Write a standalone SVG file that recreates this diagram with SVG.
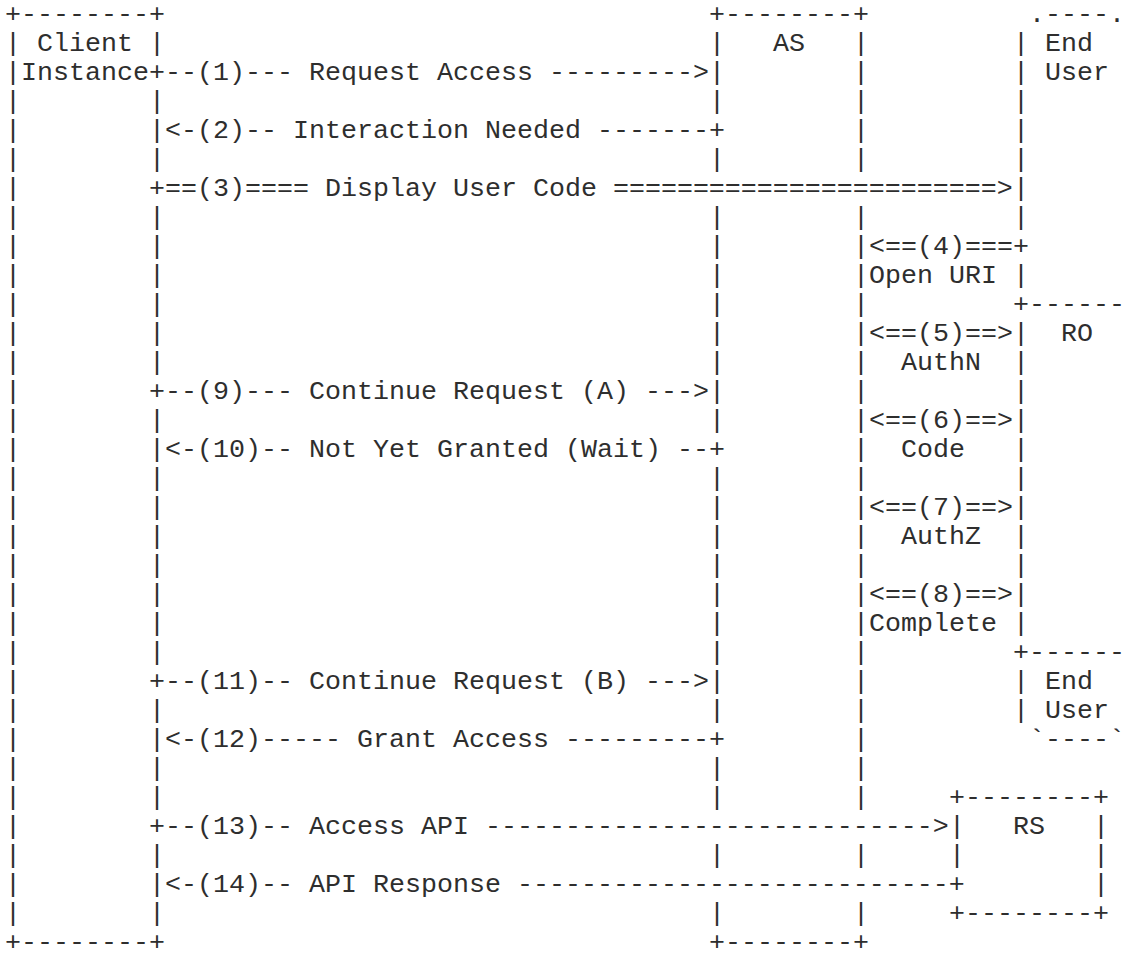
<svg xmlns="http://www.w3.org/2000/svg" width="1128" height="957" viewBox="0 0 1128 957">
<style>
  /* one character cell = 16px wide, one row = 29px tall; column c starts at x = 5 + 16c, row r baseline at y = 22 + 29r */
  .t { font-family: "Liberation Mono", "Courier New", monospace; font-size: 26.67px; fill: #2e2e2e; white-space: pre; }
</style>
<rect x="0" y="0" width="1128" height="957" fill="#ffffff"/>

<!-- Client Instance lifeline box -->
<g id="client-instance" class="t">
  <text x="5" y="22">+--------+</text>
  <text x="5" y="51">|&#160;Client&#160;|</text>
  <text x="5" y="80">|Instance</text>
  <text x="5" y="950">+--------+</text>
  <!-- left edge, rows 3..31 -->
  <text x="5 5 5 5 5 5 5 5 5 5 5 5 5 5 5 5 5 5 5 5 5 5 5 5 5 5 5 5 5" y="109 138 167 196 225 254 283 312 341 370 399 428 457 486 515 544 573 602 631 660 689 718 747 776 805 834 863 892 921">|||||||||||||||||||||||||||||</text>
  <!-- right edge, rows without an outgoing arrow -->
  <text x="149 149 149 149 149 149 149 149 149 149 149 149 149 149 149 149 149 149 149 149 149 149 149 149 149" y="109 138 167 225 254 283 312 341 370 428 457 486 515 544 573 602 631 660 718 747 776 805 863 892 921">|||||||||||||||||||||||||</text>
</g>

<!-- Authorization Server lifeline box -->
<g id="as" class="t">
  <text x="709" y="22">+--------+</text>
  <text x="709" y="51">|</text>
  <text x="773" y="51">AS</text>
  <text x="709" y="950">+--------+</text>
  <!-- left edge -->
  <text x="709 709 709 709 709 709 709 709 709 709 709 709 709 709 709 709 709 709 709 709 709 709 709 709" y="80 109 167 225 254 283 312 341 370 399 428 486 515 544 573 602 631 660 689 718 776 805 863 921">||||||||||||||||||||||||</text>
  <!-- right edge -->
  <text x="853 853 853 853 853 853 853 853 853 853 853 853 853 853 853 853 853 853 853 853 853 853 853 853 853 853 853 853" y="51 80 109 138 167 225 254 283 312 341 370 399 428 457 486 515 544 573 602 631 660 689 718 747 776 805 863 921">||||||||||||||||||||||||||||</text>
</g>

<!-- End User / Resource Owner -->
<g id="end-user" class="t">
  <text x="1029" y="22">.----.</text>
  <text x="1013" y="51">|</text>
  <text x="1045" y="51">End</text>
  <text x="1013" y="80">|</text>
  <text x="1045" y="80">User</text>
  <text x="1013 1013 1013 1013 1013" y="109 138 167 196 225">|||||</text>
  <text x="1013" y="283">|</text>
  <g id="ro">
    <text x="1013" y="312">+------</text>
    <text x="1061" y="341">RO</text>
    <text x="1013 1013 1013 1013 1013 1013 1013 1013 1013 1013 1013" y="341 370 399 428 457 486 515 544 573 602 631">|||||||||||</text>
    <text x="1013" y="660">+------</text>
  </g>
  <text x="1013" y="689">|</text>
  <text x="1045" y="689">End</text>
  <text x="1013" y="718">|</text>
  <text x="1045" y="718">User</text>
  <text x="1029" y="747">`----`</text>
</g>

<!-- Resource Server -->
<g id="rs" class="t">
  <text x="949" y="805">+--------+</text>
  <text x="949" y="834">|</text>
  <text x="1013" y="834">RS</text>
  <text x="1093" y="834">|</text>
  <text x="949" y="863">|</text>
  <text x="1093" y="863">|</text>
  <text x="1093" y="892">|</text>
  <text x="949" y="921">+--------+</text>
</g>

<!-- Messages between the parties -->
<g id="connectors" class="t">
  <text x="149" y="80">+--(1)--- Request Access ---------&gt;</text>
  <text x="165" y="138">&lt;-(2)-- Interaction Needed -------+</text>
  <text x="149" y="196">+==(3)==== Display User Code ========================&gt;</text>
  <text x="869" y="254">&lt;==(4)===+</text>
  <text x="869" y="283">Open URI</text>
  <text x="869" y="341">&lt;==(5)==&gt;</text>
  <text x="901" y="370">AuthN</text>
  <text x="149" y="399">+--(9)--- Continue Request (A) ---&gt;</text>
  <text x="869" y="428">&lt;==(6)==&gt;</text>
  <text x="165" y="457">&lt;-(10)-- Not Yet Granted (Wait) --+</text>
  <text x="901" y="457">Code</text>
  <text x="869" y="515">&lt;==(7)==&gt;</text>
  <text x="901" y="544">AuthZ</text>
  <text x="869" y="602">&lt;==(8)==&gt;</text>
  <text x="869" y="631">Complete</text>
  <text x="149" y="689">+--(11)-- Continue Request (B) ---&gt;</text>
  <text x="165" y="747">&lt;-(12)----- Grant Access ---------+</text>
  <text x="149" y="834">+--(13)-- Access API ----------------------------&gt;</text>
  <text x="165" y="892">&lt;-(14)-- API Response ---------------------------+</text>
</g>
</svg>
